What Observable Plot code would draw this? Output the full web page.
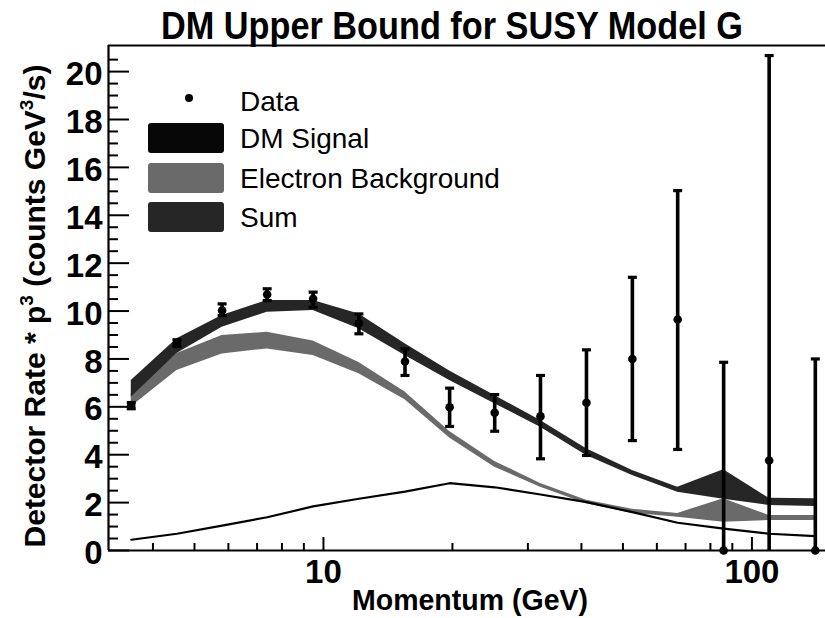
<!DOCTYPE html>
<html>
<head>
<meta charset="utf-8">
<script src="https://cdn.jsdelivr.net/npm/d3@7"></script>
<script src="https://cdn.jsdelivr.net/npm/@observablehq/plot@0.6"></script>
<style>
  html, body { margin: 0; padding: 0; background: #fff; }
  #chart { width: 825px; height: 618px; }
</style>
</head>
<body>
<div id="chart"></div>
<script>
// ---- data ----
const momentum = [3.56, 4.55, 5.80, 7.39, 9.46, 12.1, 15.5, 19.7, 25.1, 32.1, 41.1, 52.6, 67.1, 85.9, 109.7, 140.6];
const rate     = [6.05, 8.66, 10.02, 10.69, 10.51, 9.49, 7.89, 5.98, 5.75, 5.60, 6.17, 8.00, 9.65, 0, 3.76, 0];
const errLow   = [5.92, 8.52, 9.81, 10.44, 10.16, 9.05, 7.31, 5.18, 4.98, 3.83, 3.97, 4.59, 4.22, 0, 0, 0];
const errHigh  = [6.18, 8.80, 10.30, 10.93, 10.79, 9.88, 8.42, 6.78, 6.51, 7.31, 8.38, 11.41, 15.03, 7.86, 20.67, 8.00];
const sumLow   = [6.40, 8.23, 9.32, 9.95, 10.02, 9.26, 8.14, 7.10, 6.13, 5.15, 3.97, 3.13, 2.43, 2.14, 1.88, 1.84];
const sumHigh  = [7.10, 8.84, 9.81, 10.44, 10.44, 9.88, 8.63, 7.50, 6.47, 5.43, 4.25, 3.34, 2.64, 3.37, 2.18, 2.16];
const bgLow    = [6.00, 7.52, 8.21, 8.42, 8.14, 7.38, 6.30, 4.70, 3.48, 2.64, 1.95, 1.56, 1.39, 1.18, 1.25, 1.25];
const bgHigh   = [6.55, 8.23, 8.98, 9.11, 8.75, 7.85, 6.62, 4.97, 3.72, 2.80, 2.10, 1.72, 1.55, 2.16, 1.46, 1.46];
const dmSignal = [0.45, 0.70, 1.04, 1.39, 1.84, 2.16, 2.46, 2.81, 2.64, 2.34, 2.02, 1.60, 1.16, 0.91, 0.70, 0.60];

const xDomain = [3.15, 148.5];
const yDomain = [0, 21.09];
const yMajorTicks = [0, 2, 4, 6, 8, 10, 12, 14, 16, 18, 20];
const yMinorTicks = d3.range(0.5, 21, 0.5).filter(v => v % 2 !== 0);
const xMajorTicks = [10, 100];
const xMinorTicks = [4, 5, 6, 7, 8, 9, 20, 30, 40, 50, 60, 70, 80, 90];

const titleText = "DM Upper Bound for SUSY Model G";
const xLabel = "Momentum (GeV)";
const legendItems = [
  {label: "Data", kind: "dot"},
  {label: "DM Signal", kind: "box", color: "#070707"},
  {label: "Electron Background", kind: "box", color: "#6a6a6a"},
  {label: "Sum", kind: "box", color: "#262626"}
];

// ---- table built from the arrays ----
const rows = momentum.map((p, i) => ({
  p, rate: rate[i], lo: errLow[i], hi: errHigh[i],
  sLo: sumLow[i], sHi: sumHigh[i], bLo: bgLow[i], bHi: bgHigh[i], dm: dmSignal[i]
}));
const caps = rows.flatMap(r => [{p: r.p, v: r.lo}, {p: r.p, v: r.hi}]).filter(c => c.v > 0);

const W = 825, H = 618, mL = 108, mR = 0, mT = 45, mB = 68;
const fw = W - mL - mR, fh = H - mT - mB;

const capSymbol = { draw(ctx, size) { ctx.rect(-4.5, -1.6, 9, 3.2); } };
const font = "'Liberation Sans', Arial, Helvetica, sans-serif";

const chart = Plot.plot({
  width: W, height: H,
  marginLeft: mL, marginRight: mR, marginTop: mT, marginBottom: mB,
  x: {type: "log", domain: xDomain, axis: null},
  y: {domain: yDomain, axis: null},
  style: {fontFamily: font, background: "#fff", color: "#000", overflow: "visible"},
  marks: [
    Plot.areaY(rows, {x: "p", y1: "bLo", y2: "bHi", fill: "#6a6a6a", curve: "linear"}),
    Plot.areaY(rows, {x: "p", y1: "sLo", y2: "sHi", fill: "#262626", curve: "linear"}),
    Plot.line(rows, {x: "p", y: "dm", stroke: "#000", strokeWidth: 2.2, curve: "linear"}),
    Plot.ruleX(rows, {x: "p", y1: "lo", y2: "hi", stroke: "#000", strokeWidth: 3.6}),
    Plot.dot(caps, {x: "p", y: "v", symbol: capSymbol, fill: "#000", stroke: null}),
    Plot.dot(rows, {x: "p", y: "rate", r: 4.3, fill: "#000", stroke: null}),
    // ticks (inside, ROOT style)
    Plot.tickY(yMajorTicks, {y: d => d, insetRight: fw - 21, stroke: "#000", strokeWidth: 2}),
    Plot.tickY(yMinorTicks, {y: d => d, insetRight: fw - 10, stroke: "#000", strokeWidth: 2}),
    Plot.tickX(xMajorTicks, {x: d => d, insetTop: fh - 13, stroke: "#000", strokeWidth: 2}),
    Plot.tickX(xMinorTicks, {x: d => d, insetTop: fh - 7, stroke: "#000", strokeWidth: 2}),
    // frame: left, bottom, top
    Plot.ruleX([xDomain[0]], {stroke: "#000", strokeWidth: 2.2}),
    Plot.ruleY(yDomain, {stroke: "#000", strokeWidth: 2.2}),
    // tick labels
    Plot.text(yMajorTicks, {y: d => d, frameAnchor: "left", textAnchor: "end", dx: -6, dy: 3,
      text: d => String(d), fontSize: 33, fontWeight: "bold", fill: "#000"}),
    Plot.text(xMajorTicks, {x: d => d, frameAnchor: "bottom", lineAnchor: "middle", dy: 22,
      text: d => String(d), fontSize: 33, fontWeight: "bold", fill: "#000"})
  ]
});

document.getElementById("chart").appendChild(chart);

// ---- title, axis titles and legend ----
const svg = d3.select(chart);

svg.append("text")
  .attr("x", 452).attr("y", 39)
  .attr("text-anchor", "middle")
  .attr("font-family", font).attr("font-weight", "bold").attr("font-size", 39)
  .attr("textLength", 582).attr("lengthAdjust", "spacingAndGlyphs")
  .attr("fill", "#000")
  .text(titleText);

svg.append("text")
  .attr("x", 470).attr("y", 610)
  .attr("text-anchor", "middle")
  .attr("font-family", font).attr("font-weight", "bold").attr("font-size", 30)
  .attr("textLength", 236).attr("lengthAdjust", "spacingAndGlyphs")
  .attr("fill", "#000")
  .text(xLabel);

const yt = svg.append("text")
  .attr("transform", "translate(45,306) rotate(-90)")
  .attr("text-anchor", "middle")
  .attr("font-family", font).attr("font-weight", "bold").attr("font-size", 30)
  .attr("fill", "#000");
yt.append("tspan").text("Detector Rate * p");
yt.append("tspan").attr("font-size", 19).attr("dy", -12).text("3");
yt.append("tspan").attr("dy", 12).text(" (counts GeV");
yt.append("tspan").attr("font-size", 19).attr("dy", -12).text("3");
yt.append("tspan").attr("dy", 12).text("/s)");

const legendY = [101, 138, 178, 217];
const lg = svg.append("g").attr("font-family", font).attr("font-size", 28).attr("text-anchor", "start");
legendItems.forEach((it, i) => {
  const cy = legendY[i];
  if (it.kind === "dot") {
    lg.append("circle").attr("cx", 189).attr("cy", cy - 3).attr("r", 4).attr("fill", "#000");
  } else {
    lg.append("rect").attr("x", 148).attr("y", cy - 15).attr("width", 76).attr("height", 30)
      .attr("rx", 3).attr("fill", it.color);
  }
  lg.append("text").attr("x", 240).attr("y", cy + 10).attr("text-anchor", "start")
    .attr("fill", "#000").text(it.label);
});
</script>
</body>
</html>
